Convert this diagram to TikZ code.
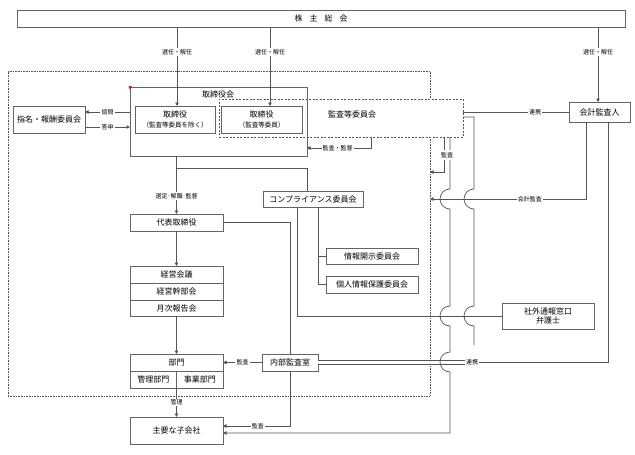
\documentclass[tikz,border=0pt]{standalone}
\usepackage{fontspec}
\newfontfamily\jp{Noto Sans CJK JP}
\usetikzlibrary{arrows.meta,positioning}
\definecolor{orgline}{RGB}{85,85,85}
\definecolor{orgbox}{RGB}{100,100,100}
\tikzset{
  orgnode/.style={
    rectangle, draw=orgbox, line width=0.7pt, fill=white,
    inner sep=0pt, outer sep=0pt, minimum width=93pt, minimum height=17pt,
    align=center, font=\jp\fontsize{8}{9.5}\selectfont
  },
  outerbox/.style={
    rectangle, draw=orgline, line width=0.6pt,
    dash pattern=on 0.8pt off 0.8pt, inner sep=0pt, outer sep=0pt
  },
  auditbox/.style={
    rectangle, draw=orgline, line width=0.6pt, fill=white,
    dash pattern=on 2pt off 1.5pt, inner sep=0pt, outer sep=0pt
  },
  txt/.style={inner sep=0pt, font=\jp\fontsize{8}{9.5}\selectfont},
  lbl/.style={fill=white, inner sep=1.2pt, font=\jp\fontsize{6}{7}\selectfont},
  link/.style={draw=orgline, line width=0.7pt},
  arrow/.style={link, -{Triangle[length=3.5pt,width=3.5pt]}},
  twinlink/.style={draw=orgline, line width=0.6pt, double=white, double distance=3.4pt},
  jump/.style={}
}
\newcommand{\hop}{arc[start angle=90, end angle=270, radius=10pt]}

\begin{document}
\begin{tikzpicture}[x=1pt, y=-1pt]
  \useasboundingbox (0,0) rectangle (635,455);

  % frames
  \node[outerbox, minimum width=422pt, minimum height=325pt] (company) at (219,233.5) {};
  \node[auditbox, minimum width=244pt, minimum height=38pt] (kansa) at (341,118) {};
  \node[txt] (kansalbl) at (352,114) {監査等委員会};
  \node[orgnode, fill=none, minimum width=177pt, minimum height=69pt] (kai) at (218.5,121.5) {};
  \node[txt] (kailbl) at (218,94) {取締役会};
  \fill[red] (129,86) -- ++(3,0) -- ++(-3,3) -- cycle;

  % boxes
  \node[orgnode, minimum width=608pt] (kabu) at (321,18.5)
    {株\hspace{7pt}主\hspace{7pt}総\hspace{7pt}会};
  \node[orgnode, minimum width=80pt, minimum height=27pt] (tori1) at (175,119.5)
    {取締役\\{\fontsize{6.5}{8}\selectfont （監査等委員を除く）}};
  \node[orgnode, minimum width=81pt, minimum height=27pt] (tori2) at (261.5,119.5)
    {取締役\\{\fontsize{6.5}{8}\selectfont （監査等委員）}};
  \node[orgnode, minimum width=72pt, minimum height=27pt] (shimei) at (49,119.5) {指名・報酬委員会};
  \node[orgnode, minimum width=61pt, minimum height=20pt] (kaikei) at (599.5,112) {会計監査人};
  \node[orgnode] (daihyo) at (176.5,222.5) {代表取締役};
  \node[orgnode] (keiei1) at (176.5,274.5) {経営会議};
  \node[orgnode, below=0pt of keiei1] (keiei2) {経営幹部会};
  \node[orgnode, below=0pt of keiei2, minimum height=16pt] (keiei3) {月次報告会};
  \node[orgnode] (bumon) at (176.5,362.5) {部門};
  \node[orgnode, minimum width=46.5pt, anchor=north west] (kanri) at (bumon.south west) {管理部門};
  \node[orgnode, minimum width=46.5pt, anchor=north east] (jigyo) at (bumon.south east) {事業部門};
  \node[orgnode, minimum height=27pt] (kogaisha) at (176.5,430.5) {主要な子会社};
  \node[orgnode, minimum width=100pt, minimum height=16pt] (compl) at (313,199) {コンプライアンス委員会};
  \node[orgnode, minimum width=92pt, minimum height=16pt] (joho) at (372,256) {情報開示委員会};
  \node[orgnode, minimum width=92pt] (kojin) at (372,284.5) {個人情報保護委員会};
  \node[orgnode, minimum width=92pt, minimum height=26pt] (shagai) at (548,316) {社外通報窓口\\弁護士};
  \node[orgnode, minimum width=56pt] (naibu) at (290,362.5) {内部監査室};

  % election by shareholders
  \draw[arrow] ([xshift=2pt]tori1.north |- kabu.south) -- node[lbl, pos=0.32] {選任・解任} ([xshift=2pt]tori1.north);
  \draw[arrow] ([xshift=8.5pt]tori2.north |- kabu.south) -- node[lbl, pos=0.32] {選任・解任} ([xshift=8.5pt]tori2.north);
  \draw[arrow] ([xshift=-1.5pt]kaikei.north |- kabu.south) -- node[lbl, pos=0.33] {選任・解任} ([xshift=-1.5pt]kaikei.north);

  % board and committees
  \draw[arrow] ([yshift=7.5pt]shimei.east -| kai.west) -- node[lbl] {諮問} ([yshift=7.5pt]shimei.east);
  \draw[arrow] ([yshift=-7.5pt]shimei.east) -- node[lbl] {答申} ([yshift=-7.5pt]shimei.east -| kai.west);
  \draw[arrow] ([xshift=30pt]kansa.south) |- node[lbl, pos=0.76] {監査・監督} ([yshift=-26.5pt]kai.east);
  \draw[link] ([yshift=6pt]kansa.east) -- node[lbl, pos=0.68] {連携} (kaikei.west);

  % executive line
  \draw[arrow] (kai.south -| daihyo.north) -- node[lbl, pos=0.69] {選定･解職･監督} (daihyo.north);
  \coordinate (split) at ([yshift=-12pt]kai.south -| daihyo.north);
  \draw[link] (split) -| ([xshift=-6pt]compl.north);
  \draw[arrow] (daihyo.south) -- (keiei1.north);
  \draw[arrow] (keiei3.south) -- (bumon.north);
  \draw[arrow] (kanri.south east) -- node[lbl] {管理} (kanri.south east |- kogaisha.north);
  \draw[link] (daihyo.east) -| (naibu.north);

  % compliance
  \draw[link] ([xshift=-16pt]compl.south) |- (shagai.west);
  \coordinate (trunk) at ([xshift=5pt]compl.south);
  \draw[link] (trunk) |- (kojin.west);
  \draw[link] (joho.west) -- (joho.west -| trunk);

  % internal audit
  \draw[arrow] (naibu.west) -- node[lbl] {監査} (bumon.east);
  \draw[arrow] (naibu.south) |- node[lbl, pos=0.74] {監査} ([yshift=4.5pt]kogaisha.east);

  % accounting auditor
  \draw[arrow] ([xshift=-13.5pt]kaikei.south) |- node[lbl, pos=0.68] {会計監査} ([yshift=34.5pt]company.east);
  \node[lbl] (renkei) at (472,362.5) {連携};
  \draw[link] ([xshift=8.5pt]kaikei.south) |- (renkei.east);
  \draw[twinlink] (naibu.east) -- (renkei.west);

  % audit committee lines
  \draw[arrow] ([xshift=103pt]kansa.south) |- ([yshift=61.5pt]company.east);
  \draw[arrow] ([xshift=109pt]kansa.south) -- ++(0,52) \hop -- ++(0,97) \hop
    -- ++(0,26) \hop |- ([yshift=-2.5pt]kogaisha.east);
  \draw[link] ([yshift=1pt]kansa.east) -- ++(11,0) -- ++(0,72) \hop -- ++(0,97) \hop -- ++(0,19);
  \node[lbl, inner sep=2pt] (kaudit) at (447,155) {監査};
\end{tikzpicture}
\end{document}
